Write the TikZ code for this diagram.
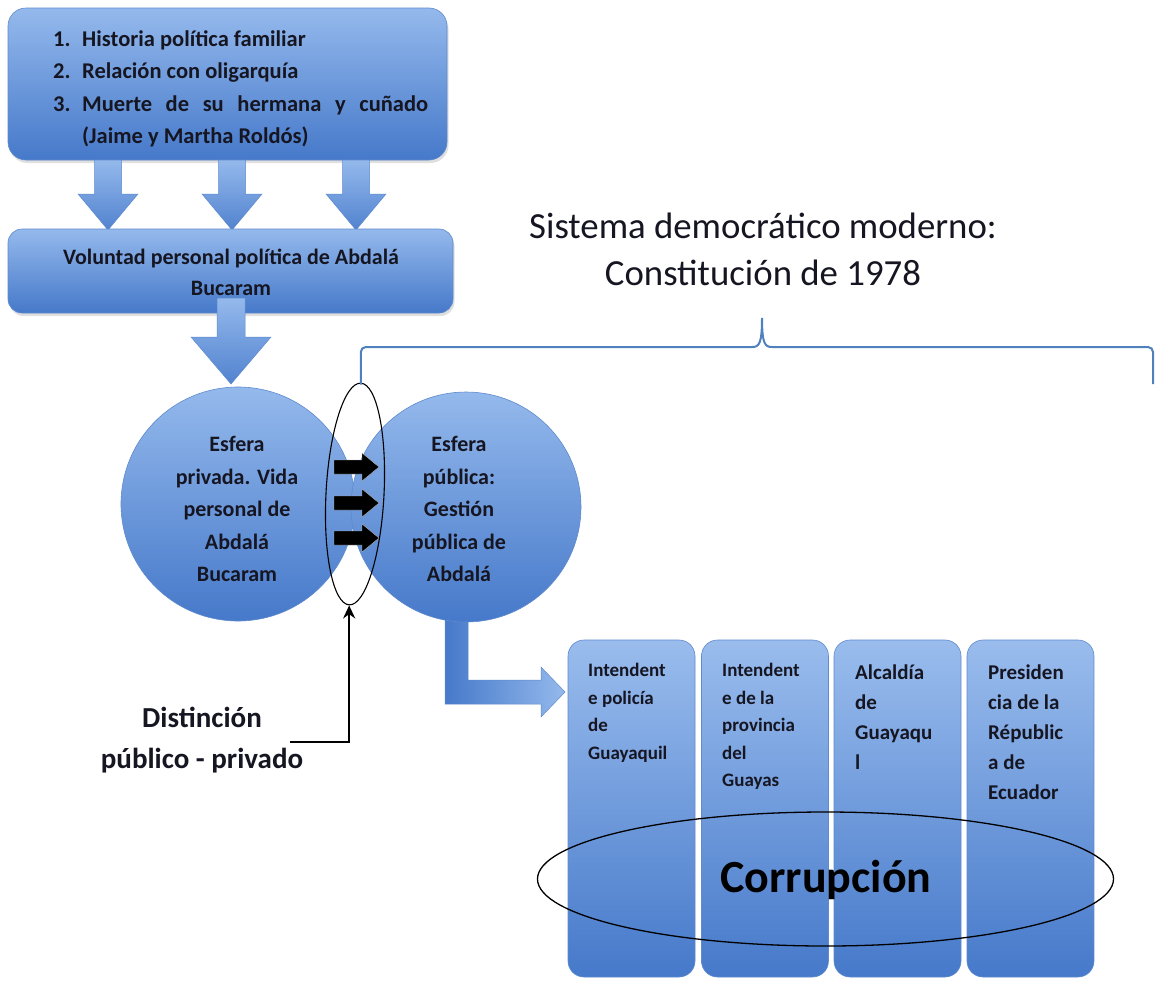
\documentclass[tikz,border=0pt]{standalone}
\usepackage{fontspec}
\setmainfont{Carlito}
\usetikzlibrary{shapes.geometric,arrows.meta,shadows,calc}
\definecolor{btop}{RGB}{148,185,236}
\definecolor{bbot}{RGB}{70,121,202}
\definecolor{bedge}{RGB}{95,138,205}
\definecolor{bracec}{RGB}{79,129,189}
\definecolor{txt}{RGB}{22,22,34}
\newcommand\dnarr[6]{%
  \path[blockarrow] (#1-#5,#2) -- (#1+#5,#2) -- (#1+#5,#3) -- (#1+#6,#3) -- (#1,#4) -- (#1-#6,#3) -- (#1-#5,#3) -- cycle;}
\newcommand\rtarr[1]{%
  \path[blackarrow] (334,#1-7) -- (362,#1-7) -- (362,#1-14) -- (379,#1) -- (362,#1+14) -- (362,#1+7) -- (334,#1+7) -- cycle;}
\begin{document}
\begin{tikzpicture}[x=1pt,y=-1pt,
  bluebox/.style={draw=bedge, line width=0.6pt, top color=btop, bottom color=bbot, inner sep=0pt,
    rounded corners=18pt, drop shadow={opacity=0.25, shadow xshift=1.5pt, shadow yshift=-3pt}},
  blockarrow/.style={draw=bedge, line width=0.5pt, top color=btop, bottom color=bbot!85!btop},
  sidearrow/.style={draw=bedge, line width=0.5pt, left color=bbot, right color=btop},
  blackarrow/.style={fill=black, draw=gray!60, line width=0.4pt},
  circ/.style={circle, draw=bedge, line width=0.6pt, top color=btop, bottom color=bbot, inner sep=0pt},
  colbox/.style={draw=bedge, line width=0.6pt, top color=btop!95!white, bottom color=bbot, inner sep=0pt,
    rounded corners=16pt, minimum width=127pt, minimum height=337pt},
  lst/.style={anchor=base west, inner sep=0pt, font=\fontsize{22.5}{27}\selectfont\bfseries, text=txt},
  ctext/.style={align=center, inner sep=0pt, font=\fontsize{22}{32.5}\selectfont\bfseries, text=txt},
  coltext/.style={anchor=north west, align=left, inner sep=0pt, text=txt},
  thinline/.style={draw=black, line width=1.1pt}
]
\useasboundingbox (0,0) rectangle (1155,980);
\fill[white] (0,0) rectangle (1155,980);

% top box
\node[bluebox, minimum width=439pt, minimum height=152pt] (top) at (227.5,84) {};
\node[lst] (n1) at (53,46) {1.};
\node[lst] (l1) at (82,46) {Historia política familiar};
\node[lst] (n2) at (53,78) {2.};
\node[lst] (l2) at (82,78) {Relación con oligarquía};
\node[lst] (n3) at (53,111) {3.};
\node[lst] (l3) at (82,111) {\makebox[346pt][s]{Muerte de su hermana y cuñado}};
\node[lst] (l4) at (82,143) {(Jaime y Martha Roldós)};

% arrows top -> voluntad
\dnarr{108}{160}{194}{230}{13.5}{30}
\dnarr{232}{160}{194}{230}{13.5}{30}
\dnarr{356}{160}{194}{230}{13.5}{30}

% voluntad box
\node[bluebox, rounded corners=14pt, minimum width=445pt, minimum height=84pt] (vol) at (230.5,271) {};
\node[ctext, font=\fontsize{22}{31}\selectfont\bfseries] (voltx) at (231,272) {Voluntad personal política de Abdalá\\Bucaram};

% arrow voluntad -> circle
\dnarr{231}{298}{337}{384}{14}{40}

% title
\node[align=center, inner sep=0pt, font=\fontsize{36.8}{47}\selectfont, text=txt] (title) at (763,249) {Sistema democrático moderno:\\Constitución de 1978};

% elbow arrow
\path[sidearrow] (445,600) -- (468,600) -- (468,680) -- (541,680) -- (541,667) -- (565,692) -- (541,717) -- (541,704) -- (445,704) -- cycle;

% circles
\node[circ, minimum size=234pt] (priv) at (238,504) {};
\node[circ, minimum size=230pt] (pub) at (466,507) {};
\node[ctext] (privtx) at (237,509) {Esfera\\privada. Vida\\personal de\\Abdalá\\Bucaram};
\node[ctext] (pubtx) at (459,509) {Esfera\\pública:\\Gestión\\pública de\\Abdalá};

% arrows between spheres
\rtarr{467}
\rtarr{503}
\rtarr{538}

% lens ellipse
\node[ellipse, thinline, minimum width=58pt, minimum height=222pt, inner sep=0pt, rotate=-3] (lens) at (355,494) {};

% brace
\coordinate (brL) at ($(lens.north)+(0,2)$);
\coordinate (brR) at (1153,384);
\draw[bracec, line width=2pt, rounded corners=5pt] (brL) -- (brL |- 0,347) -- (752,347);
\draw[bracec, line width=2pt] (752,347) .. controls (759,347) and (762,344) .. (762,318)
  .. controls (762,344) and (765,347) .. (772,347);
\draw[bracec, line width=2pt, rounded corners=5pt] (772,347) -- (brR |- 0,347) -- (brR);

% distinction
\node[align=center, inner sep=0pt, font=\fontsize{29}{41}\selectfont\bfseries, text=txt] (dist) at (202,740) {Distinción\\público - privado};
\coordinate (dstart) at (290,742);
\draw[line width=2.5pt, -{Stealth[length=13pt, width=12pt]}] (dstart) -- (dstart -| lens.south) -- (lens.south);

% columns
\node[colbox] (c1) at (631.5,808.5) {};
\node[colbox] (c2) at (765,808.5) {};
\node[colbox] (c3) at (897.5,808.5) {};
\node[colbox] (c4) at (1030.5,808.5) {};
\node[coltext, font=\fontsize{19}{27.5}\selectfont\bfseries] (t1) at (588,663) {Intendent\\e policía\\de\\Guayaquil};
\node[coltext, font=\fontsize{19}{27.5}\selectfont\bfseries] (t2) at (722,663) {Intendent\\e de la\\provincia\\del\\Guayas};
\node[coltext, font=\fontsize{21}{30}\selectfont\bfseries] (t3) at (855,665) {Alcaldía\\de\\Guayaqu\\l};
\node[coltext, font=\fontsize{21}{30}\selectfont\bfseries] (t4) at (988,665) {Presiden\\cia de la\\Républic\\a de\\Ecuador};

% corruption ellipse
\node[ellipse, thinline, line width=1.3pt, minimum width=576pt, minimum height=134pt, inner sep=0pt] (corr) at (825.5,879) {};
\node[inner sep=0pt, font=\fontsize{46}{50}\selectfont\bfseries, text=black] (corrtx) at (826,880) {Corrupción};
\end{tikzpicture}
\end{document}
